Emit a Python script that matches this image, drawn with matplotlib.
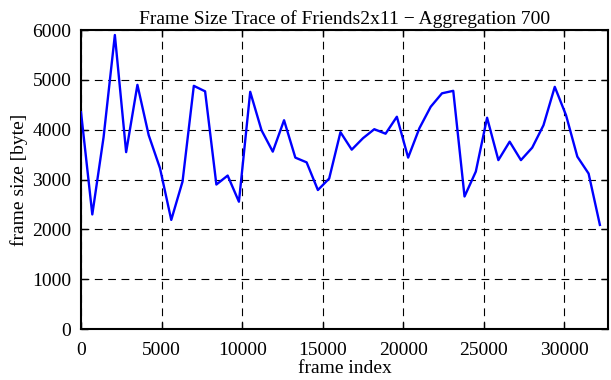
import numpy as np
import matplotlib.pyplot as plt

plt.rcParams['font.family'] = ['Liberation Serif', 'DejaVu Serif']

# aggregated frame sizes, one value every 700 frames
agg = 700
frame_size = [4350, 2300, 3850, 5900, 3550, 4900, 3890, 3230, 2190, 2960,
              4880, 4770, 2900, 3080, 2555, 4760, 3990, 3560, 4190, 3440,
              3345, 2790, 3020, 3950, 3600, 3830, 4010, 3920, 4260, 3440,
              4030, 4460, 4730, 4780, 2660, 3160, 4240, 3390, 3760, 3390,
              3640, 4090, 4860, 4290, 3460, 3120, 2090]
frame_index = np.arange(len(frame_size)) * agg

xticks = [0, 5000, 10000, 15000, 20000, 25000, 30000]
yticks = [0, 1000, 2000, 3000, 4000, 5000, 6000]

fig = plt.figure(figsize=(6.11, 3.8), dpi=100)
ax = fig.add_axes([0.1326, 0.134, 0.8624, 0.787])

ax.plot(frame_index, frame_size, color='#0000ff', lw=1.7, zorder=3)

ax.set_xlim(0, 32700)
ax.set_ylim(0, 6000)
ax.set_xticks(xticks)
ax.set_yticks(yticks)
ax.tick_params(direction='in', top=True, right=True, length=5, width=1,
               labelsize=14, pad=7)
ax.tick_params(axis='x', pad=9)
ax.grid(True, color='black', lw=0.8, linestyle=(0, (7, 5)))
for s in ax.spines.values():
    s.set_linewidth(1.5)

ax.set_title('Frame Size Trace of Friends2x11 \u2212 Aggregation 700', fontsize=14, pad=4)
ax.set_xlabel('frame index', fontsize=14, labelpad=1)
ax.set_ylabel('frame size [byte]', fontsize=14, labelpad=3)

fig.savefig('out.png')
